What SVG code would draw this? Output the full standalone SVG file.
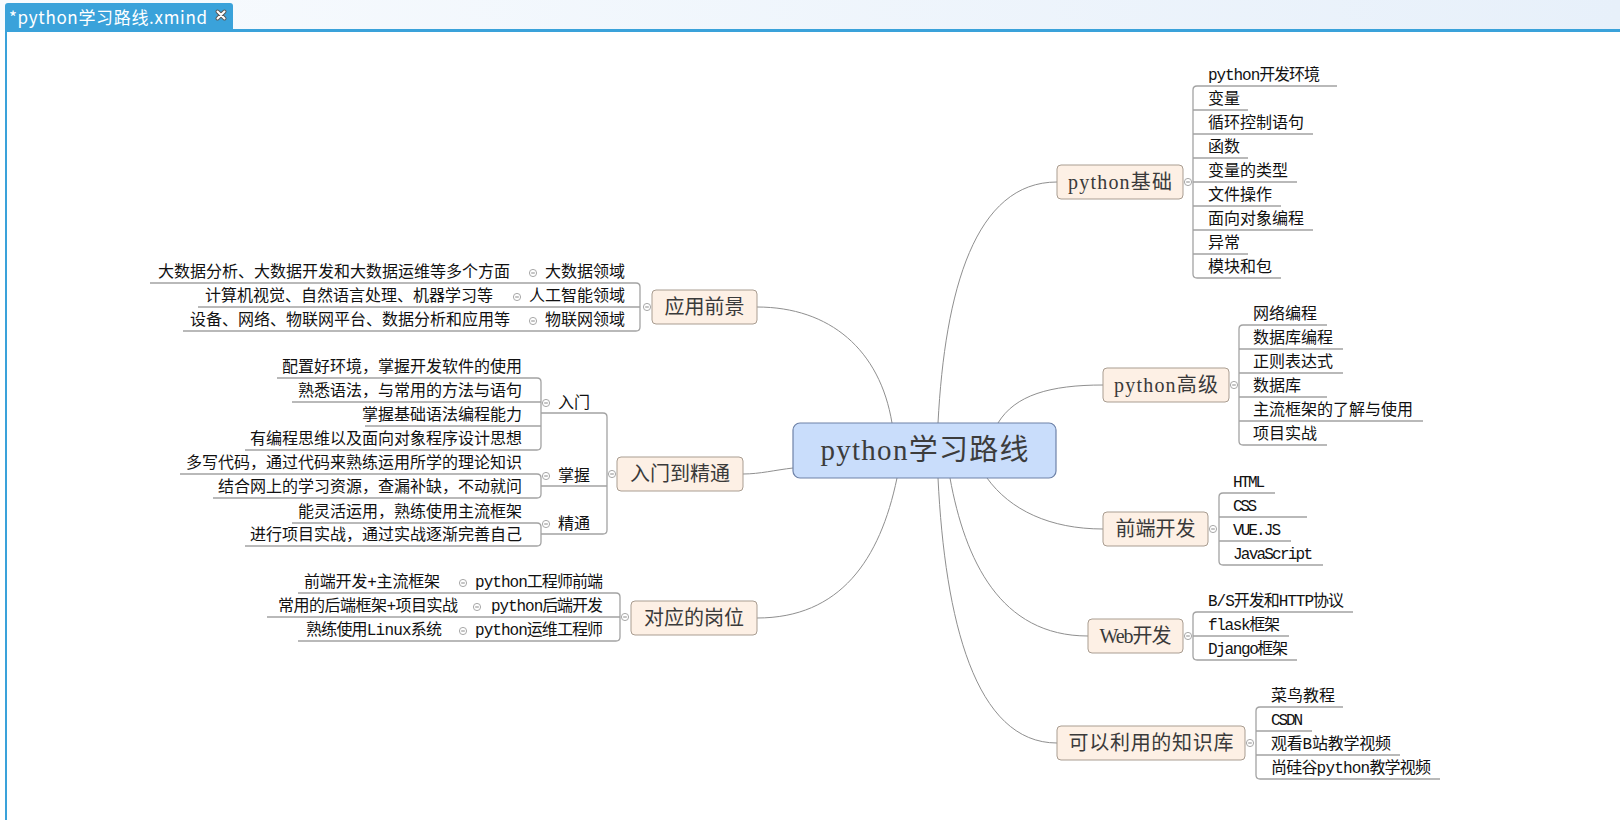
<svg xmlns="http://www.w3.org/2000/svg" width="1620" height="820" viewBox="0 0 1620 820">
<defs>
<linearGradient id="topbg" x1="0" y1="0" x2="1" y2="0">
<stop offset="0" stop-color="#f8fbfe"/>
<stop offset="1" stop-color="#e7f0fa"/>
</linearGradient>
<g id="col"><circle r="3.6" fill="#fff" stroke="#a8a8a8" stroke-width="1"/><line x1="-1.8" y1="0" x2="1.8" y2="0" stroke="#8a8a8a" stroke-width="1"/></g>
</defs>
<style>
.t{font-family:'Liberation Mono','Noto Sans CJK SC',monospace;font-size:16px;fill:#111}
.e{text-anchor:end}
.tp rect{fill:#fdf0e5;stroke:#a99d91;stroke-width:1}
.tp text{font-family:'Liberation Serif','Noto Sans CJK SC',serif;font-size:20px;fill:#3a3a3a;text-anchor:middle}
.ln{fill:none;stroke:#a3a3a3;stroke-width:1.3}
.cv{fill:none;stroke:#8f8f8f;stroke-width:1}
</style>
<rect width="1620" height="820" fill="#fff"/>
<rect width="1620" height="30" fill="url(#topbg)"/>
<g id="tab">
<path d="M5,31 V6 Q5,3 8,3 H230 Q233,3 233,6 V31 Z" fill="#3aa2da"/>
<rect x="5" y="29" width="1615" height="3" fill="#3aa2da"/>
<rect x="5" y="29" width="2" height="791" fill="#3aa2da"/>
<text x="9" y="24" font-family="'Noto Sans CJK SC','Liberation Sans',sans-serif" font-size="17" fill="#fff" textLength="198">*python学习路线.xmind</text>
<path d="M217.5,11.5 L224.5,18.5 M224.5,11.5 L217.5,18.5" stroke="#5a5a5a" stroke-width="4" stroke-linecap="round"/>
<path d="M217.5,11.5 L224.5,18.5 M224.5,11.5 L217.5,18.5" stroke="#fff" stroke-width="2" stroke-linecap="round"/>
</g>

<g id="connectors">
<path class="cv" d="M892,423 C880,350 830,307 757,307"/>
<path class="cv" d="M793,468 C775,470 760,474 743,474"/>
<path class="cv" d="M897,478 C880,560 840,618 757,618"/>
<path class="cv" d="M938,423 C945,290 975,182 1057,182"/>
<path class="cv" d="M998,423 C1015,395 1050,385 1103,385"/>
<path class="cv" d="M987,478 C1010,510 1050,529 1103,529"/>
<path class="cv" d="M950,478 C965,560 1000,636 1088,636"/>
<path class="cv" d="M938,478 C945,620 975,743 1057,743"/>

<path class="ln" d="M1337,86 H1197 Q1193,86 1193,90 V274 Q1193,278 1197,278 H1281 M1193,110H1248 M1193,134H1313 M1193,158H1248 M1193,182H1297 M1193,206H1281 M1193,230H1313 M1193,254H1248"/>
<path class="ln" d="M1327,325 H1243 Q1239,325 1239,329 V441 Q1239,445 1243,445 H1327 M1239,349H1343 M1239,373H1343 M1239,397H1327 M1239,421H1423"/>
<path class="ln" d="M1275,493 H1223 Q1219,493 1219,497 V561 Q1219,565 1223,565 H1323 M1219,517H1307 M1219,541H1291"/>
<path class="ln" d="M1353,612 H1197 Q1193,612 1193,616 V656 Q1193,660 1197,660 H1297 M1193,636H1289"/>
<path class="ln" d="M1343,707 H1260 Q1256,707 1256,711 V775 Q1256,779 1260,779 H1440 M1256,731H1312 M1256,755H1400"/>

<path class="ln" d="M150,283 H636 Q640,283 640,287 V327 Q640,331 636,331 H183 M198,307 H640"/>
<path class="ln" d="M541,413 H603 Q607,413 607,417 V530 Q607,534 603,534 H541 M541,486 H607"/>
<path class="ln" d="M277,378 H537 Q541,378 541,382 V446 Q541,450 537,450 H245 M292,402H541 M365,426H541"/>
<path class="ln" d="M180,474 H537 Q541,474 541,478 V494 Q541,498 537,498 H213"/>
<path class="ln" d="M292,523 H537 Q541,523 541,527 V542 Q541,546 537,546 H245"/>
<path class="ln" d="M298,593 H616 Q620,593 620,597 V637 Q620,641 616,641 H298 M267,617 H620"/>
</g>

<g id="central">
<rect x="793" y="423" width="263" height="55" rx="7" fill="#c9ddfb" stroke="#6e82a8" stroke-width="1.2"/>
<text x="924.5" y="460" font-family="'Liberation Serif','Noto Sans CJK SC',serif" font-size="29" fill="#3c3c3c" text-anchor="middle" textLength="208">python学习路线</text>
</g>

<g id="python-basic" class="tp">
<rect x="1057" y="165" width="126" height="34" rx="4"/>
<text x="1120" y="189" textLength="104">python基础</text>
<use href="#col" x="1188" y="182"/>
</g>
<g id="python-basic-children" class="t">
<text x="1208" y="80" textLength="112">python开发环境</text>
<text x="1208" y="104">变量</text>
<text x="1208" y="128">循环控制语句</text>
<text x="1208" y="152">函数</text>
<text x="1208" y="176">变量的类型</text>
<text x="1208" y="200">文件操作</text>
<text x="1208" y="224">面向对象编程</text>
<text x="1208" y="248">异常</text>
<text x="1208" y="272">模块和包</text>
</g>

<g id="python-adv" class="tp">
<rect x="1103" y="368" width="126" height="34" rx="4"/>
<text x="1166" y="392" textLength="104">python高级</text>
<use href="#col" x="1234" y="385"/>
</g>
<g id="python-adv-children" class="t">
<text x="1253" y="319">网络编程</text>
<text x="1253" y="343">数据库编程</text>
<text x="1253" y="367">正则表达式</text>
<text x="1253" y="391">数据库</text>
<text x="1253" y="415">主流框架的了解与使用</text>
<text x="1253" y="439">项目实战</text>
</g>

<g id="frontend" class="tp">
<rect x="1103" y="512" width="105" height="34" rx="4"/>
<text x="1155.5" y="536">前端开发</text>
<use href="#col" x="1213" y="529"/>
</g>
<g id="frontend-children" class="t">
<text x="1233" y="487" textLength="32">HTML</text>
<text x="1233" y="511" textLength="24">CSS</text>
<text x="1233" y="535" textLength="48">VUE.JS</text>
<text x="1233" y="559" textLength="80">JavaScript</text>
</g>

<g id="web" class="tp">
<rect x="1088" y="619" width="95" height="34" rx="4"/>
<text x="1135.5" y="643" textLength="72">Web开发</text>
<use href="#col" x="1188" y="636"/>
</g>
<g id="web-children" class="t">
<text x="1208" y="606" textLength="136">B/S开发和HTTP协议</text>
<text x="1208" y="630" textLength="72">flask框架</text>
<text x="1208" y="654" textLength="80">Django框架</text>
</g>

<g id="resources" class="tp">
<rect x="1057" y="726" width="188" height="34" rx="4"/>
<text x="1151" y="750" textLength="165">可以利用的知识库</text>
<use href="#col" x="1250" y="743"/>
</g>
<g id="resources-children" class="t">
<text x="1271" y="701">菜鸟教程</text>
<text x="1271" y="725" textLength="32">CSDN</text>
<text x="1271" y="749" textLength="120">观看B站教学视频</text>
<text x="1271" y="773" textLength="160">尚硅谷python教学视频</text>
</g>

<g id="prospects" class="tp">
<rect x="652" y="290" width="105" height="34" rx="4"/>
<text x="704.5" y="314">应用前景</text>
<use href="#col" x="647" y="307"/>
</g>
<g id="prospects-children" class="t e">
<text x="625" y="277">大数据领域</text>
<use href="#col" x="533" y="273"/>
<text x="510" y="277">大数据分析、大数据开发和大数据运维等多个方面</text>
<text x="625" y="301">人工智能领域</text>
<use href="#col" x="517" y="297"/>
<text x="493" y="301">计算机视觉、自然语言处理、机器学习等</text>
<text x="625" y="325">物联网领域</text>
<use href="#col" x="533" y="321"/>
<text x="510" y="325">设备、网络、物联网平台、数据分析和应用等</text>
</g>

<g id="mastery" class="tp">
<rect x="617" y="457" width="126" height="34" rx="4"/>
<text x="680" y="481">入门到精通</text>
<use href="#col" x="612" y="474"/>
</g>
<g id="mastery-children" class="t">
<text x="558" y="408">入门</text>
<use href="#col" x="546" y="403"/>
<text x="558" y="481">掌握</text>
<use href="#col" x="546" y="476"/>
<text x="558" y="529">精通</text>
<use href="#col" x="546" y="524"/>
</g>
<g id="mastery-grandchildren" class="t e">
<text x="522" y="372">配置好环境，掌握开发软件的使用</text>
<text x="522" y="396">熟悉语法，与常用的方法与语句</text>
<text x="522" y="420">掌握基础语法编程能力</text>
<text x="522" y="444">有编程思维以及面向对象程序设计思想</text>
<text x="522" y="468">多写代码，通过代码来熟练运用所学的理论知识</text>
<text x="522" y="492">结合网上的学习资源，查漏补缺，不动就问</text>
<text x="522" y="517">能灵活运用，熟练使用主流框架</text>
<text x="522" y="540">进行项目实战，通过实战逐渐完善自己</text>
</g>

<g id="jobs" class="tp">
<rect x="631" y="601" width="126" height="34" rx="4"/>
<text x="694" y="625">对应的岗位</text>
<use href="#col" x="625" y="617"/>
</g>
<g id="jobs-children" class="t e">
<text x="603" y="587" textLength="128">python工程师前端</text>
<use href="#col" x="463" y="583"/>
<text x="440" y="587" textLength="136">前端开发+主流框架</text>
<text x="603" y="611" textLength="112">python后端开发</text>
<use href="#col" x="477" y="607"/>
<text x="458" y="611" textLength="180">常用的后端框架+项目实战</text>
<text x="603" y="635" textLength="128">python运维工程师</text>
<use href="#col" x="463" y="631"/>
<text x="442" y="635" textLength="136">熟练使用Linux系统</text>
</g>
</svg>
